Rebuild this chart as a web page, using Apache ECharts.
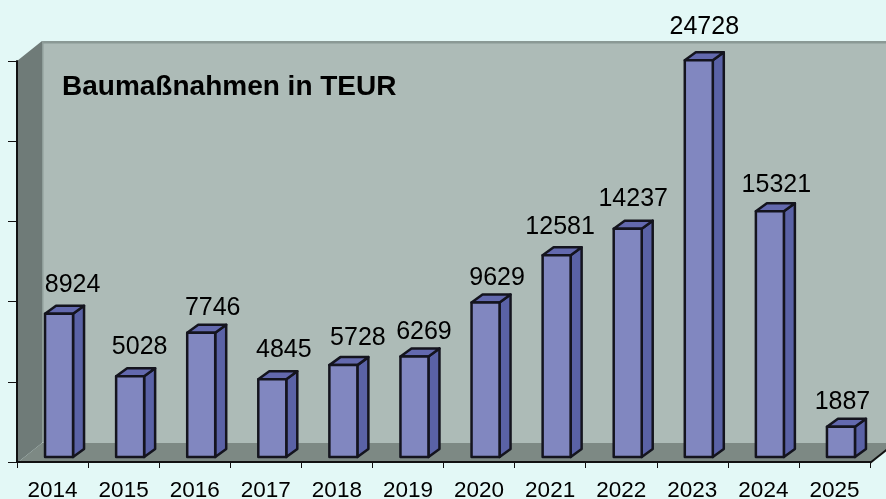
<!DOCTYPE html>
<html>
<head>
<meta charset="utf-8">
<style>
  html, body { margin: 0; padding: 0; background: #e3f8f6; }
  #chart { width: 886px; height: 499px; }
</style>
</head>
<body>
<div id="chart"></div>
<script src="https://cdn.jsdelivr.net/npm/echarts@6/dist/echarts.min.js"></script>
<script>
const years = ['2014','2015','2016','2017','2018','2019','2020','2021','2022','2023','2024','2025']
const baumassnahmen = [8924,5028,7746,4845,5728,6269,9629,12581,14237,24728,15321,1887]
const valueTicks = [0,5000,10000,15000,20000,25000]

// the labels in the original were placed by hand, so nudge them per bar
const labelNudgeX = [8,4,6,6,9,4,6,-2,0,0,1,-4]
const labelNudgeY = [-28.5,-29.5,-24.5,-29.5,-27.5,-24.5,-24.5,-28.5,-29.5,-33.5,-26.5,-24.5]

const wallDepth = { x: 25, y: 20 }
const barDepth = { x: 11, y: 8 }
const barWidth = 28
const barShift = { x: 6.5, y: -5 }
const font = '"Liberation Sans", Arial, sans-serif'

function renderWalls(params, api) {
  const c = params.coordSys
  const left = c.x, right = c.x + c.width, top = c.y, bottom = c.y + c.height + 1
  const dx = wallDepth.x, dy = wallDepth.y
  return {
    type: 'group',
    children: [
      { type: 'polygon', shape: { points: [[left+dx,top-dy],[right+dx,top-dy],[right+dx,bottom-dy],[left+dx,bottom-dy]] }, style: { fill: '#adbbb7' } },
      { type: 'rect', shape: { x: left+dx, y: top-dy, width: c.width+dx, height: 2.5 }, style: { fill: '#8a9995' } },
      { type: 'polygon', shape: { points: [[left,top],[left+dx,top-dy],[left+dx,bottom-dy],[left,bottom]] }, style: { fill: '#6f7b78' } },
      { type: 'rect', shape: { x: left+dx, y: top-dy, width: 1.5, height: c.height }, style: { fill: '#8f9e9a' } },
      { type: 'polygon', shape: { points: [[left,bottom],[left+dx,bottom-dy],[right+dx,bottom-dy],[right,bottom]] }, style: { fill: '#7d8984' } },
      { type: 'line', shape: { x1: right, y1: bottom, x2: right+dx, y2: bottom-dy }, style: { stroke: '#111', lineWidth: 2 } }
    ]
  }
}

function renderBar(params, api) {
  const i = api.value(0)
  const topPt = api.coord([i, api.value(1)])
  const basePt = api.coord([i, 0])
  const x0 = topPt[0] + barShift.x - barWidth / 2
  const x1 = x0 + barWidth
  const y0 = topPt[1] + barShift.y
  const y1 = basePt[1] + barShift.y
  const dx = barDepth.x, dy = barDepth.y
  const edge = { stroke: '#14141e', lineWidth: 2.5, lineJoin: 'round' }
  return {
    type: 'group',
    children: [
      { type: 'polygon', shape: { points: [[x1,y0],[x1+dx,y0-dy],[x1+dx,y1-dy],[x1,y1]] }, style: Object.assign({ fill: '#5a62a6' }, edge) },
      { type: 'polygon', shape: { points: [[x0,y0],[x0+dx,y0-dy],[x1+dx,y0-dy],[x1,y0]] }, style: Object.assign({ fill: '#6369ae' }, edge) },
      { type: 'rect', shape: { x: x0, y: y0, width: barWidth, height: y1 - y0 }, style: Object.assign({ fill: '#8187c0' }, edge) },
      {
        type: 'text',
        style: {
          x: (x0 + x1 + dx) / 2 + labelNudgeX[params.dataIndex],
          y: y0 + labelNudgeY[params.dataIndex],
          text: String(api.value(1)),
          fill: '#000',
          font: '25px ' + font,
          align: 'center',
          verticalAlign: 'middle'
        }
      }
    ]
  }
}

const chart = echarts.init(document.getElementById('chart'))
chart.setOption({
  backgroundColor: '#e3f8f6',
  animation: false,
  title: {
    text: 'Baumaßnahmen in TEUR',
    left: 62,
    top: 73,
    padding: 0,
    textStyle: { fontFamily: font, fontSize: 28, fontWeight: 'bold', color: '#000' }
  },
  grid: { left: 17, right: 16, top: 61, bottom: 37, outerBoundsMode: 'none' },
  xAxis: {
    type: 'category',
    data: years,
    z: 5,
    axisLine: { lineStyle: { color: '#111', width: 2 } },
    axisTick: { show: true, alignWithLabel: false, length: 6, lineStyle: { color: '#111', width: 1 } },
    axisLabel: { interval: 0, color: '#000', fontFamily: font, fontSize: 22.5, margin: 17 }
  },
  yAxis: {
    type: 'value',
    min: valueTicks[0],
    max: valueTicks[valueTicks.length - 1],
    interval: valueTicks[1],
    z: 5,
    axisLine: { show: true, lineStyle: { color: '#111', width: 2 } },
    axisTick: { show: true, length: 9, lineStyle: { color: '#111', width: 1 } },
    axisLabel: { show: false },
    splitLine: { show: false }
  },
  series: [
    { type: 'custom', silent: true, z: 1, renderItem: renderWalls, data: [[0, 0]] },
    {
      type: 'custom',
      z: 2,
      renderItem: renderBar,
      encode: { x: 0, y: 1 },
      data: baumassnahmen.map((v, i) => [i, v])
    }
  ]
})
</script>
</body>
</html>
